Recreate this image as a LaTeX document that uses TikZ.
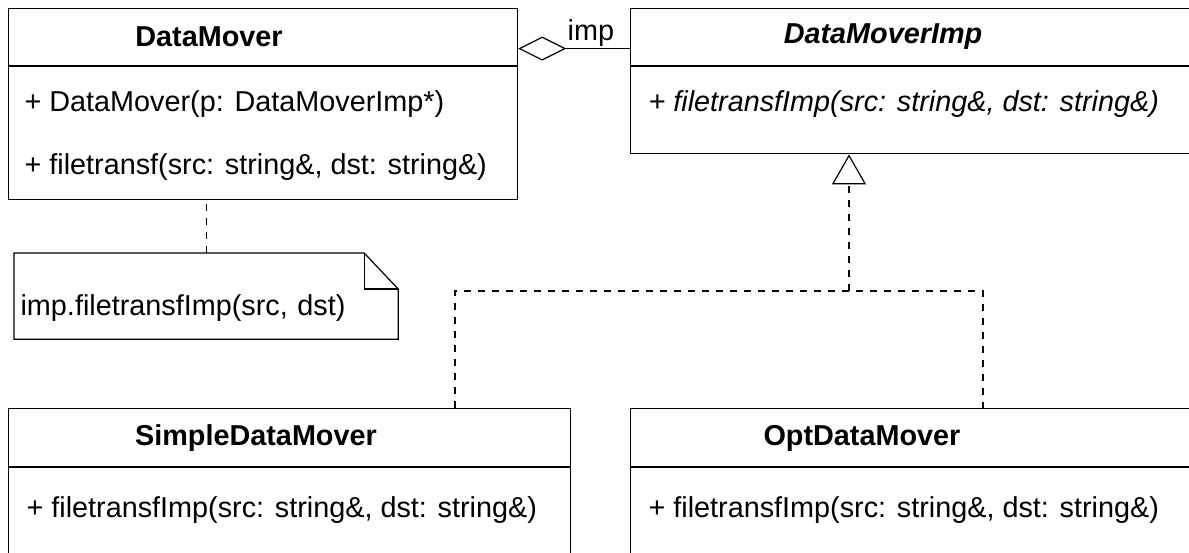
\documentclass[tikz,border=0pt]{standalone}
\usepackage{fontspec}
\setmainfont{Liberation Sans}
\usepackage{tikz}
\usetikzlibrary{arrows.meta,positioning}

\begin{document}
\begin{tikzpicture}[x=0.5pt, y=-0.5pt, line width=0.6pt,
  hdr/.style={rectangle, draw, anchor=north west, inner sep=0pt,
              minimum height=28.5pt},
  bdy/.style={rectangle, draw, inner sep=0pt},
  cname/.style={font=\fontsize{14.4}{17}\selectfont\bfseries},
  op/.style={anchor=west, inner sep=0pt, font=\fontsize{14.4}{17}\selectfont},
  lbl/.style={font=\fontsize{14.4}{17}\selectfont, inner sep=1pt},
  notebox/.style={rectangle, anchor=north west, inner ysep=0pt, inner xsep=3pt,
              text width=185.5pt, align=left, text height=31pt, text depth=11.5pt,
              font=\fontsize{14.4}{17}\selectfont},
  aggr/.style={{Diamond[open,length=24pt,width=12pt]}-},
  dashline/.style={dash pattern=on 3.5pt off 3.5pt},
  realize/.style={dashline, -{Triangle[open,length=15pt,width=17pt]}}
]
\useasboundingbox (0,0) rectangle (1189,552);
\clip (0,0) rectangle (1189,552);

\node[hdr, minimum width=254.5pt] (dmhead) at (8,8) {};
\node[bdy, minimum width=254.5pt, minimum height=66.5pt, below=0pt of dmhead] (dmbody) {};
\node[cname] (dmname) at (209,37) {DataMover};
\node[op] (dmop1) at (24,104) {+ DataMover(p: DataMoverImp*)};
\node[op] (dmop2) at (24,167) {+ filetransf(src: string\&, dst: string\&)};

\node[hdr, minimum width=310pt] (imphead) at (630,8) {};
\node[bdy, minimum width=310pt, minimum height=43.5pt, below=0pt of imphead] (impbody) {};
\node[cname, font=\fontsize{14.4}{17}\selectfont\bfseries\itshape] (impname) at (883,37) {DataMoverImp};
\node[op, font=\fontsize{14.4}{17}\selectfont\itshape] (impop) at (648,104) {+ filetransfImp(src: string\&, dst: string\&)};

\node[hdr, minimum width=281pt, minimum height=29pt] (simhead) at (8,408) {};
\node[bdy, minimum width=281pt, minimum height=60pt, below=0pt of simhead] (simbody) {};
\node[cname] (simname) at (256,438) {SimpleDataMover};
\node[op] (simop) at (26,510) {+ filetransfImp(src: string\&, dst: string\&)};

\node[hdr, minimum width=310pt, minimum height=29pt] (opthead) at (630,408) {};
\node[bdy, minimum width=310pt, minimum height=60pt, below=0pt of opthead] (optbody) {};
\node[cname] (optname) at (862,438) {OptDataMover};
\node[op] (optop) at (648,510) {+ filetransfImp(src: string\&, dst: string\&)};

\node[notebox] (note) at (14,253) {imp.filetransfImp(src, dst)};
\draw (note.north west) -- ([xshift=-17pt]note.north east) -- ([yshift=-18pt]note.north east)
  -- (note.south east) -- (note.south west) -- cycle;
\draw ([xshift=-17pt]note.north east) |- ([yshift=-18pt]note.north east);
\draw[dashline] (note.north) -- (note.north |- dmbody.south);

\draw[aggr] ([yshift=-5.75pt]dmhead.east) -- ([yshift=-5.75pt]imphead.west)
  node[lbl, above, pos=0.65] {imp};

\coordinate (fork) at (849,291);
\coordinate (simjoin) at (455,291);
\coordinate (optjoin) at (983,291);
\draw[realize] (fork) -- (impbody.south -| fork);
\draw[dashline] (simhead.north -| simjoin) -- (simjoin) -- (optjoin) -- (opthead.north -| optjoin);
\end{tikzpicture}
\end{document}
